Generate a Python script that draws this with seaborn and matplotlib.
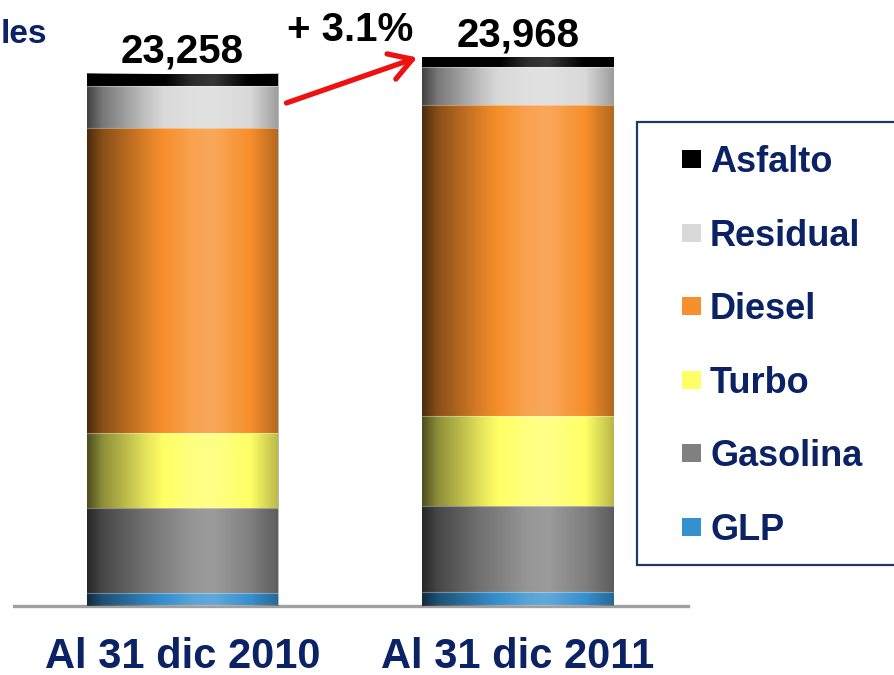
import numpy as np
import matplotlib
matplotlib.use('Agg')
import matplotlib.pyplot as plt
from matplotlib.patches import Rectangle
import seaborn as sns

# Datos (miles de barriles)
periodos = ['Al 31 dic 2010', 'Al 31 dic 2011']
productos = ['GLP', 'Gasolina', 'Turbo', 'Diesel', 'Residual', 'Asfalto']
glp = [570, 610]
gasolina = [3715, 3755]
turbo = [3280, 3930]
diesel = [13330, 13580]
residual = [1838, 1658]
asfalto = [525, 435]
totales = [23258, 23968]

colores = ['#3590d0', '#808080', '#ffff66', '#f78f2c', '#d9d9d9', '#000000']
azul = '#0b2265'

sns.set_style('white')
plt.rcParams['font.family'] = ['Liberation Sans', 'DejaVu Sans']
plt.rcParams['font.weight'] = 'bold'

W, H = 895, 675
fig = plt.figure(figsize=(W / 100, H / 100), dpi=100)
ax = fig.add_axes([14 / W, 69 / H, 674 / W, 606 / H])

capas = [glp, gasolina, turbo, diesel, residual, asfalto]
acum = np.cumsum(np.array(capas), axis=0)
ancho = 0.57

# barras apiladas: se dibuja desde el acumulado mayor al menor
for k in range(len(capas) - 1, -1, -1):
    sns.barplot(x=periodos, y=acum[k], color=colores[k], saturation=1,
                width=ancho, errorbar=None, linewidth=0, ax=ax, zorder=2)

# sombreado cilíndrico
t = np.linspace(0, 1, 300)
s = np.interp(t, [0, 0.08, 0.3, 0.55, 0.66, 0.85, 1.0],
              [-0.7, -0.45, -0.12, 0.18, 0.22, 0.0, -0.28])
grad = np.zeros((1, len(t), 4))
grad[0, :, :3] = np.where(s[:, None] > 0, 1.0, 0.0)
grad[0, :, 3] = np.abs(s)
for i, tot in enumerate(totales):
    ax.imshow(grad, extent=[i - ancho / 2, i + ancho / 2, 0, tot],
              aspect='auto', zorder=3, interpolation='bilinear')
    # líneas tenues entre segmentos
    for v in acum[:-1, i]:
        ax.plot([i - ancho / 2, i + ancho / 2], [v, v], color='white',
                alpha=0.35, lw=0.8, zorder=4)
    ax.annotate(f'{tot:,}', (i, tot), xytext=(0, 8), textcoords='offset points',
                ha='center', va='baseline', fontsize=29, fontweight='bold',
                color='black')

var = (totales[1] / totales[0] - 1) * 100
ax.text(0.5, 24700, f'+ {var:.1f}%', ha='center', va='baseline',
        fontsize=29, fontweight='bold', color='black')
ax.annotate('', xy=(0.7, totales[1]), xytext=(0.31, 21980),
            arrowprops=dict(arrowstyle='->,head_length=1.0,head_width=0.6',
                            color='#ee1111', lw=3.8, mutation_scale=16,
                            shrinkA=0, shrinkB=0))

ax.set_xlim(-0.502, 1.507)
ax.set_ylim(0, 26480)
ax.set_xlabel('')
ax.set_ylabel('')
ax.set_yticks([])
ax.set_xticks([0, 1])
ax.set_xticklabels(periodos, fontsize=30, fontweight='bold', color=azul)
ax.tick_params(axis='x', length=0, pad=22)
for lado in ['top', 'left', 'right']:
    ax.spines[lado].set_visible(False)
ax.spines['bottom'].set_color('#a0a0a0')
ax.spines['bottom'].set_linewidth(2.4)
ax.patch.set_alpha(0)

# leyenda
def fx(px):
    return px / W

def fy(py):
    return 1 - py / H

fig.add_artist(Rectangle((fx(637), fy(565)), fx(300), (565 - 122) / H,
                         transform=fig.transFigure, facecolor='white',
                         edgecolor='#1f3864', lw=1.6))
for j, prod in enumerate(productos[::-1]):
    base = 172 + j * 73.6
    col = colores[::-1][j]
    fig.add_artist(Rectangle((fx(682), fy(base - 4)), fx(19), 18 / H,
                             transform=fig.transFigure, facecolor=col,
                             edgecolor='none'))
    fig.text(fx(710), fy(base), prod, fontsize=26, fontweight='bold',
             color=azul, va='baseline', ha='left')

fig.text(fx(1), fy(43), 'les', fontsize=24, fontweight='bold', color=azul,
         va='baseline', ha='left')

fig.savefig('out.png', dpi=100)
